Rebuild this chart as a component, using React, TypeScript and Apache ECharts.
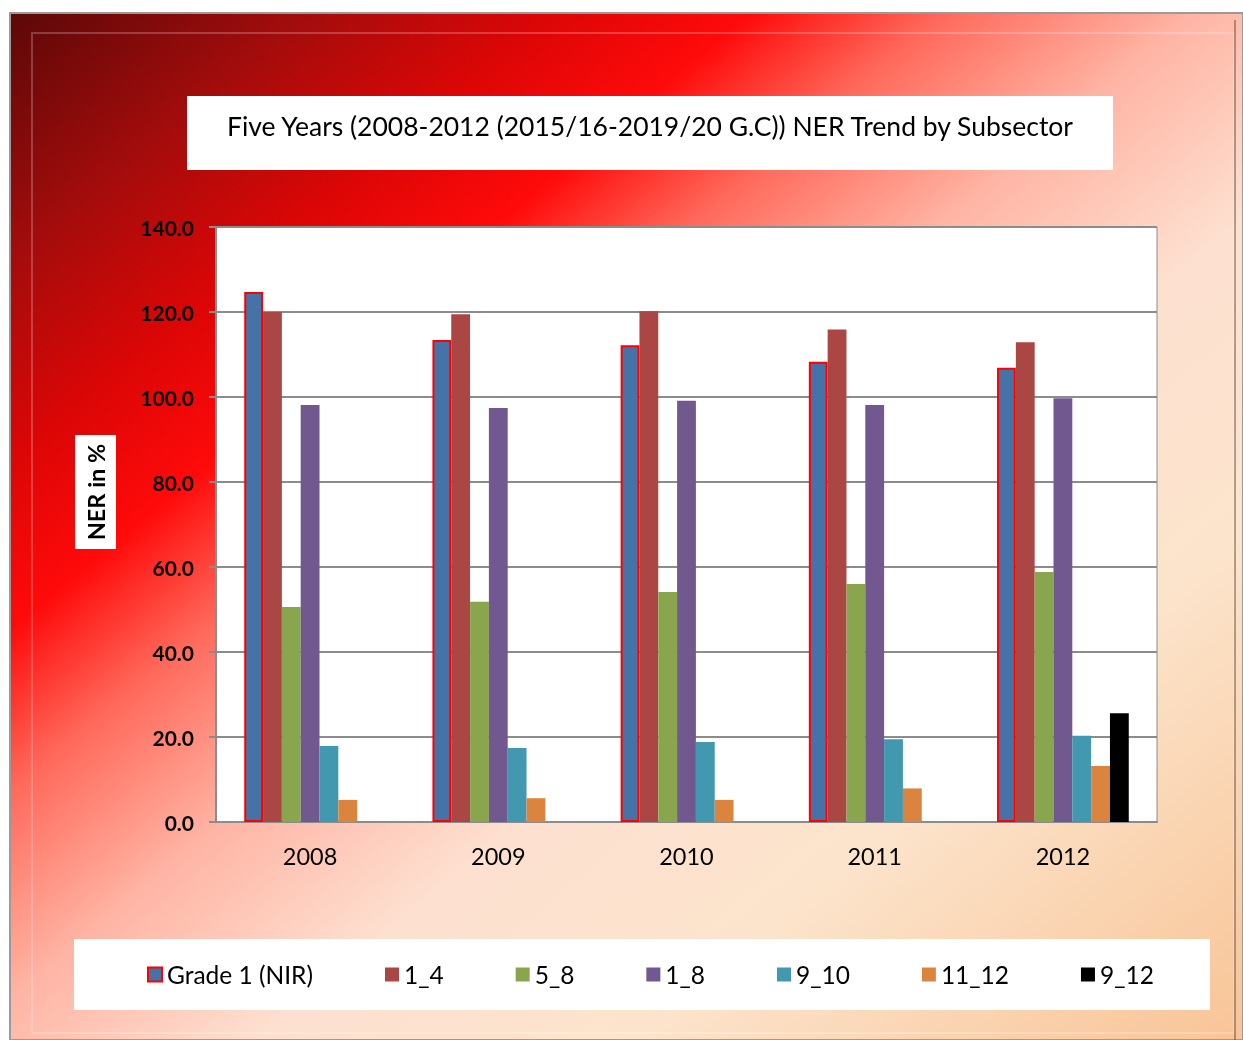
import React, { useEffect, useRef } from "react";
import * as echarts from "echarts";

const years = ["2008", "2009", "2010", "2011", "2012"];
const seriesNames = ["Grade 1 (NIR)", "1_4", "5_8", "1_8", "9_10", "11_12", "9_12"];
const grade1 = [124.7, 113.4, 112.2, 108.3, 106.9];
const g1_4 = [120.0, 119.5, 120.2, 115.9, 112.9];
const g5_8 = [50.6, 51.8, 54.1, 56.0, 58.8];
const g1_8 = [98.1, 97.4, 99.1, 98.1, 99.7];
const g9_10 = [17.9, 17.4, 18.8, 19.5, 20.3];
const g11_12 = [5.2, 5.6, 5.2, 7.9, 13.2];
const g9_12 = [null, null, null, null, 25.6];
const colors = ["#4572A7", "#AA4643", "#89A54E", "#71588F", "#4198AF", "#DB843D", "#000000"];
const yTicks = [0, 20, 40, 60, 80, 100, 120, 140];

const FONT = "Lato, 'Open Sans', sans-serif";

export default function App() {
  const ref = useRef<HTMLDivElement>(null);
  useEffect(() => {
    if (!ref.current) return;
    const chart = echarts.init(ref.current, undefined, { renderer: "svg" });
    const allData = [grade1, g1_4, g5_8, g1_8, g9_10, g11_12, g9_12];
    const series = allData.map((d, i) => ({
      name: seriesNames[i],
      type: "bar",
      data: d,
      barGap: "0%",
      barCategoryGap: "30%",
      itemStyle: {
        color: colors[i],
        borderColor: i === 0 ? "#ff0000" : colors[i],
        borderWidth: i === 0 ? 2 : 0,
      },
    }));
    chart.setOption({
      animation: false,
      textStyle: { fontFamily: FONT },
      graphic: [
        {
          type: "rect",
          z: -100,
          silent: true,
          shape: { x: 10, y: 13, width: 1233, height: 1027 },
          style: {
            fill: new echarts.graphic.LinearGradient(0, 0, 1, 1, [
              { offset: 0, color: "#5c0808" },
              { offset: 0.12, color: "#a30c0c" },
              { offset: 0.22, color: "#dc0606" },
              { offset: 0.3, color: "#ff0a0a" },
              { offset: 0.38, color: "#ff6a5c" },
              { offset: 0.48, color: "#ffb4a4" },
              { offset: 0.6, color: "#fde0d0" },
              { offset: 0.75, color: "#fce4cc" },
              { offset: 1, color: "#f8c496" },
            ]),
            stroke: "#9a9a9a",
            lineWidth: 2,
          },
        },
        {
          type: "rect",
          z: -99,
          silent: true,
          shape: { x: 32, y: 33, width: 1202, height: 1000 },
          style: { fill: "none", stroke: "rgba(255,255,255,0.22)", lineWidth: 2 },
        },
        {
          type: "line",
          z: -99,
          silent: true,
          shape: { x1: 1235, y1: 20, x2: 1235, y2: 1040 },
          style: { stroke: "rgba(90,60,40,0.6)", lineWidth: 1.5 },
        },
        {
          type: "rect",
          z: -50,
          silent: true,
          shape: { x: 187, y: 96, width: 926, height: 74 },
          style: { fill: "#ffffff" },
        },
        {
          type: "text",
          z: -40,
          x: 650,
          y: 126,
          style: {
            text: "Five Years (2008-2012 (2015/16-2019/20 G.C)) NER Trend by Subsector",
            fill: "#000",
            font: `26.5px ${FONT}`,
            align: "center",
            verticalAlign: "middle",
          },
        },
        {
          type: "rect",
          z: -50,
          silent: true,
          shape: { x: 75, y: 435, width: 41, height: 114 },
          style: { fill: "#ffffff" },
        },
        {
          type: "text",
          z: -40,
          x: 96,
          y: 492,
          rotation: Math.PI / 2,
          style: {
            text: "NER in %",
            fill: "#000",
            font: `bold 23.5px ${FONT}`,
            align: "center",
            verticalAlign: "middle",
          },
        },
        {
          type: "rect",
          z: -50,
          silent: true,
          shape: { x: 74, y: 939, width: 1136, height: 71 },
          style: { fill: "#ffffff" },
        },
      ],
      legend: {
        left: 142,
        top: 957,
        itemGap: 72,
        itemWidth: 14,
        itemHeight: 14,
        icon: "rect",
        textStyle: { fontSize: 24.5, color: "#000", fontFamily: FONT },
        data: seriesNames,
      },
      grid: {
        left: 216,
        top: 227,
        right: 86,
        bottom: 218,
        show: true,
        backgroundColor: "#ffffff",
        borderColor: "#8c8c8c",
        borderWidth: 1,
      },
      xAxis: {
        type: "category",
        data: years,
        axisLine: { lineStyle: { color: "#8c8c8c", width: 2 } },
        axisTick: { show: false },
        axisLabel: { fontSize: 23.5, color: "#000", margin: 22, fontFamily: FONT },
      },
      yAxis: {
        type: "value",
        min: 0,
        max: 140,
        interval: 20,
        axisLine: { show: true, lineStyle: { color: "#8c8c8c", width: 2 } },
        axisTick: { show: true, length: 7, lineStyle: { color: "#8c8c8c", width: 2 } },
        splitLine: { lineStyle: { color: "#8c8c8c", width: 2 } },
        axisLabel: {
          fontSize: 21,
          fontWeight: "bold",
          color: "#000",
          margin: 22,
          fontFamily: FONT,
          formatter: (v: number) => (yTicks.includes(v) ? v.toFixed(1) : ""),
        },
      },
      series,
    });
    return () => chart.dispose();
  }, []);
  return (
    <div
      ref={ref}
      style={{ position: "fixed", left: 0, top: 0, width: 1243, height: 1040 }}
    />
  );
}
